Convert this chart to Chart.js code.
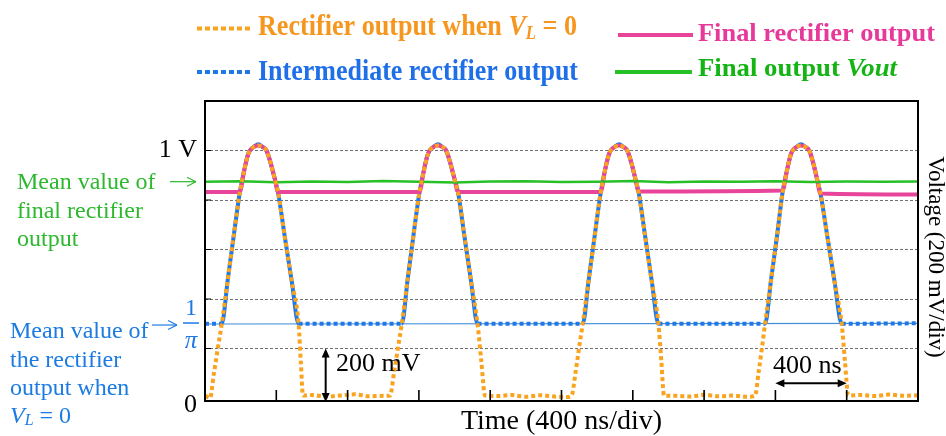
<!DOCTYPE html>
<html>
<head>
<meta charset="utf-8">
<title>Rectifier waveforms</title>
<script src="https://cdn.jsdelivr.net/npm/chart.js@4.4.1/dist/chart.umd.min.js"></script>
<style>
  html, body { margin: 0; padding: 0; background: #fff; }
  canvas { display: block; }
</style>
</head>
<body>
<canvas id="scope" width="946" height="436"></canvas>
<script>
// time in ns, voltage in V (oscilloscope capture, 400 ns/div, 200 mV/div)
const orangeT = [
  0, 28, 50, 72, 94, 128, 162, 195, 220, 240, 252, 275, 300, 322, 345, 368, 390, 410, 448, 487, 525, 538, 550,
  600, 680, 760, 840, 920, 1000,
  1038, 1060, 1082, 1104, 1137, 1170, 1203, 1228, 1248, 1260, 1283, 1308, 1330, 1353, 1376, 1398, 1420, 1456, 1493, 1529, 1550, 1571,
  1640, 1720, 1800, 1880, 1960, 2030,
  2057, 2078, 2098, 2119, 2153, 2187, 2220, 2244, 2264, 2276, 2299, 2324, 2346, 2369, 2392, 2413, 2433, 2470, 2507, 2544, 2560, 2575,
  2640, 2720, 2800, 2880, 2960, 3040,
  3086, 3105, 3124, 3142, 3176, 3210, 3240, 3265, 3285, 3297, 3320, 3344, 3367, 3390, 3412, 3432, 3452, 3492, 3532, 3572, 3590, 3609,
  3680, 3760, 3840, 3920, 4000
];
const orangeV = [
  0.01, 0.0, 0.1, 0.2, 0.3, 0.48, 0.66, 0.83, 0.92, 0.98, 1.0, 1.015, 1.02, 1.015, 1.0, 0.95, 0.89, 0.83, 0.65, 0.47, 0.3, 0.14, 0.01,
  0.012, 0.006, 0.01, 0.015, 0.007, 0.009,
  0.01, 0.1, 0.2, 0.3, 0.48, 0.66, 0.83, 0.92, 0.98, 1.0, 1.015, 1.02, 1.015, 1.0, 0.95, 0.89, 0.83, 0.65, 0.47, 0.3, 0.15, 0.01,
  0.008, 0.012, 0.005, 0.011, 0.006, 0.004,
  0.01, 0.1, 0.2, 0.3, 0.48, 0.66, 0.83, 0.92, 0.98, 1.0, 1.015, 1.02, 1.015, 1.0, 0.95, 0.89, 0.83, 0.65, 0.47, 0.3, 0.15, 0.01,
  0.009, 0.006, 0.013, 0.007, 0.01, 0.005,
  0.01, 0.1, 0.2, 0.3, 0.48, 0.66, 0.83, 0.92, 0.98, 1.0, 1.015, 1.02, 1.015, 1.0, 0.95, 0.89, 0.83, 0.65, 0.47, 0.3, 0.15, 0.01,
  0.012, 0.008, 0.014, 0.009, 0.011
];

const blueT = [
  0,
  94, 128, 162, 195, 220, 240, 252, 275, 300, 322, 345, 368, 390, 410, 448, 487, 525,
  1104, 1137, 1170, 1203, 1228, 1248, 1260, 1283, 1308, 1330, 1353, 1376, 1398, 1420, 1456, 1493, 1529,
  2119, 2153, 2187, 2220, 2244, 2264, 2276, 2299, 2324, 2346, 2369, 2392, 2413, 2433, 2470, 2507, 2544,
  3142, 3176, 3210, 3240, 3265, 3285, 3297, 3320, 3344, 3367, 3390, 3412, 3432, 3452, 3492, 3532, 3572,
  4000
];
const blueV = [
  0.3,
  0.3, 0.48, 0.66, 0.83, 0.92, 0.98, 1.0, 1.015, 1.025, 1.015, 1.0, 0.95, 0.89, 0.83, 0.65, 0.47, 0.3,
  0.3, 0.48, 0.66, 0.83, 0.92, 0.98, 1.0, 1.015, 1.025, 1.015, 1.0, 0.95, 0.89, 0.83, 0.65, 0.47, 0.3,
  0.3, 0.48, 0.66, 0.83, 0.92, 0.98, 1.0, 1.015, 1.025, 1.015, 1.0, 0.95, 0.89, 0.83, 0.65, 0.47, 0.3,
  0.3, 0.48, 0.66, 0.83, 0.92, 0.98, 1.0, 1.015, 1.025, 1.015, 1.0, 0.95, 0.89, 0.83, 0.65, 0.47, 0.3,
  0.302
];

const pinkT = [
  0,
  195, 220, 240, 252, 275, 300, 322, 345, 368, 390, 410,
  1203, 1228, 1248, 1260, 1283, 1308, 1330, 1353, 1376, 1398, 1420,
  2220, 2244, 2264, 2276, 2299, 2324, 2346, 2369, 2392, 2413, 2433,
  3240, 3265, 3285, 3297, 3320, 3344, 3367, 3390, 3412, 3432, 3452,
  4000
];
const pinkV = [
  0.832,
  0.832, 0.92, 0.98, 1.0, 1.015, 1.02, 1.015, 1.0, 0.95, 0.89, 0.832,
  0.832, 0.92, 0.98, 1.0, 1.015, 1.02, 1.015, 1.0, 0.95, 0.89, 0.832,
  0.832, 0.92, 0.98, 1.0, 1.015, 1.02, 1.015, 1.0, 0.95, 0.89, 0.834,
  0.838, 0.92, 0.98, 1.0, 1.015, 1.02, 1.015, 1.0, 0.95, 0.89, 0.826,
  0.822
];

const greenT = [0, 200, 400, 600, 800, 1000, 1200, 1400, 1600, 1800, 2000, 2200, 2400, 2600, 2800, 3000, 3200, 3400, 3600, 3800, 4000];
const greenV = [0.874, 0.876, 0.872, 0.875, 0.873, 0.877, 0.874, 0.871, 0.875, 0.876, 0.873, 0.874, 0.877, 0.872, 0.875, 0.874, 0.876, 0.873, 0.875, 0.874, 0.875];

// mean value of the rectifier output when VL = 0 (about 1/pi V)
const meanT = [0, 4000];
const meanV = [0.299, 0.302];

const xTickValues = [400, 800, 1200, 1600, 2000, 2400, 2800, 3200, 3600];
const yGridValues = [0.2, 0.4, 0.6, 0.8, 1.0];
const yTickValues = [0, 1];
const yTickLabels = ['0', '1 V'];

const ORANGE = '#F9A31E';
const BLUE = '#1F78E6';
const PINK = '#E8449A';
const GREEN = '#27C027';
const SERIF = '"Liberation Serif", "Times New Roman", serif';

const pts = (ts, vs) => ts.map((t, i) => ({ x: t, y: vs[i] }));

function line(ctx, x1, y1, x2, y2) {
  ctx.beginPath();
  ctx.moveTo(x1, y1);
  ctx.lineTo(x2, y2);
  ctx.stroke();
}

// filled arrow head with tip at (x, y)
function head(ctx, x, y, ang, len, half) {
  ctx.beginPath();
  ctx.moveTo(x, y);
  ctx.lineTo(x - len * Math.cos(ang) + half * Math.sin(ang), y - len * Math.sin(ang) - half * Math.cos(ang));
  ctx.lineTo(x - len * Math.cos(ang) - half * Math.sin(ang), y - len * Math.sin(ang) + half * Math.cos(ang));
  ctx.closePath();
  ctx.fill();
}

// thin pointer arrow with an open head
function pointer(ctx, x1, x2, y, color) {
  ctx.strokeStyle = color;
  ctx.lineWidth = 1.2;
  line(ctx, x1, y, x2, y);
  line(ctx, x2, y, x2 - 9, y - 4.5);
  line(ctx, x2, y, x2 - 9, y + 4.5);
}

// text runs squeezed to a given width (condensed legend lettering)
function runs(ctx, parts, x, base, width) {
  let total = 0;
  parts.forEach(p => { ctx.font = p.font; p.w = ctx.measureText(p.t).width; total += p.w; });
  ctx.save();
  ctx.translate(x, base);
  ctx.scale(width / total, 1);
  let cx = 0;
  parts.forEach(p => { ctx.font = p.font; ctx.fillText(p.t, cx, p.dy || 0); cx += p.w; });
  ctx.restore();
}

// plain text runs at natural width
function textRuns(ctx, parts, x, y) {
  let cx = x;
  parts.forEach(p => { ctx.font = p.font; ctx.fillText(p.t, cx, y + (p.dy || 0)); cx += ctx.measureText(p.t).width; });
}

const decorations = {
  id: 'decorations',
  afterDraw(chart) {
    const { ctx, chartArea: a, scales: { x, y } } = chart;
    ctx.save();

    // frame and inner tick marks
    ctx.strokeStyle = '#000';
    ctx.lineWidth = 2;
    ctx.strokeRect(a.left, a.top, a.right - a.left, a.bottom - a.top);
    ctx.lineWidth = 1.6;
    xTickValues.forEach(t => {
      const px = x.getPixelForValue(t);
      line(ctx, px, a.bottom, px, a.bottom - 11);
    });
    ctx.lineWidth = 1;
    yGridValues.forEach(v => {
      const py = y.getPixelForValue(v);
      line(ctx, a.left, py, a.left + 6, py);
    });

    // y tick labels
    ctx.fillStyle = '#000';
    ctx.font = '26px ' + SERIF;
    ctx.textAlign = 'right';
    ctx.textBaseline = 'middle';
    yTickValues.forEach((v, i) => {
      ctx.fillText(yTickLabels[i], a.left - 8, y.getPixelForValue(v) + (v === 0 ? 7 : 0));
    });

    // 1/pi label at the mean level
    const yMean = y.getPixelForValue(meanV[0]);
    ctx.fillStyle = BLUE;
    ctx.textAlign = 'center';
    ctx.font = '24px ' + SERIF;
    ctx.fillText('1', 191, yMean - 15);
    ctx.font = 'italic 25px ' + SERIF;
    ctx.fillText('π', 191, yMean + 17);
    ctx.strokeStyle = BLUE;
    ctx.lineWidth = 1.5;
    line(ctx, 183, yMean - 1, 199, yMean - 1);

    // right axis title
    ctx.save();
    ctx.translate(935, 257);
    ctx.rotate(Math.PI / 2);
    ctx.fillStyle = '#000';
    ctx.font = '23px ' + SERIF;
    ctx.fillText('Voltage (200 mV/div)', 0, 0);
    ctx.restore();

    // left annotations
    ctx.textAlign = 'left';
    ctx.font = '24px ' + SERIF;
    ctx.fillStyle = '#2DB82D';
    ['Mean value of', 'final rectifier', 'output'].forEach((s, i) => ctx.fillText(s, 17, 183 + i * 28.5));
    pointer(ctx, 170, 196, y.getPixelForValue(greenV[0]), '#2DB82D');

    ctx.fillStyle = '#1C7BE3';
    ['Mean value of', 'the rectifier', 'output when'].forEach((s, i) => ctx.fillText(s, 10, 332 + i * 28.3));
    textRuns(ctx, [
      { t: 'V', font: 'italic 24px ' + SERIF },
      { t: 'L', font: 'italic 16px ' + SERIF, dy: 4 },
      { t: ' = 0', font: '24px ' + SERIF }
    ], 10, 417);
    pointer(ctx, 152, 177, yMean + 1, '#1C7BE3');

    // 200 mV scale arrow
    ctx.strokeStyle = '#000';
    ctx.fillStyle = '#000';
    ctx.lineWidth = 2;
    const xv = x.getPixelForValue(677);
    const y0 = y.getPixelForValue(0) + 4, y1 = y.getPixelForValue(0.2);
    line(ctx, xv, y0 - 6, xv, y1 + 6);
    head(ctx, xv, y1, -Math.PI / 2, 9, 4);
    head(ctx, xv, y0, Math.PI / 2, 9, 4);
    ctx.font = '26px ' + SERIF;
    ctx.fillText('200 mV', 336, 364);

    // 400 ns scale arrow
    const ya = y.getPixelForValue(0.06);
    const xa = x.getPixelForValue(3200), xb = x.getPixelForValue(3600);
    line(ctx, xa + 6, ya, xb - 6, ya);
    head(ctx, xa, ya, Math.PI, 9, 4);
    head(ctx, xb, ya, 0, 9, 4);
    ctx.fillText('400 ns', 773, 366);

    // legend
    ctx.textBaseline = 'alphabetic';
    ctx.lineWidth = 4;
    ctx.setLineDash([5, 3]);
    ctx.strokeStyle = ORANGE;
    line(ctx, 197, 28.5, 253, 28.5);
    ctx.strokeStyle = BLUE;
    line(ctx, 197, 72, 253, 72);
    ctx.setLineDash([]);
    ctx.strokeStyle = PINK;
    line(ctx, 618, 35, 693, 35);
    ctx.strokeStyle = GREEN;
    line(ctx, 615, 72, 692, 72);

    const B30 = 'bold 30px ' + SERIF;
    const B25 = 'bold 25px ' + SERIF;
    ctx.fillStyle = '#F7961E';
    runs(ctx, [
      { t: 'Rectifier output when ', font: B30 },
      { t: 'V', font: 'italic ' + B30 },
      { t: 'L', font: 'italic bold 19px ' + SERIF, dy: 4 },
      { t: ' = 0', font: B30 }
    ], 258, 35, 319);
    ctx.fillStyle = '#1F6FE8';
    runs(ctx, [{ t: 'Intermediate rectifier output', font: B30 }], 258, 80, 320);
    ctx.fillStyle = '#E6399A';
    runs(ctx, [{ t: 'Final rectifier output', font: B25 }], 698, 40.5, 237);
    ctx.fillStyle = '#14B414';
    runs(ctx, [
      { t: 'Final output ', font: B25 },
      { t: 'Vout', font: 'italic ' + B25 }
    ], 698, 76, 199);

    ctx.restore();
  }
};

new Chart(document.getElementById('scope'), {
  type: 'line',
  data: {
    datasets: [
      {
        label: 'Rectifier output when VL = 0',
        data: pts(orangeT, orangeV),
        borderColor: ORANGE,
        borderWidth: 4,
        borderDash: [4, 3],
        cubicInterpolationMode: 'monotone'
      },
      {
        label: 'Final output Vout',
        data: pts(greenT, greenV),
        borderColor: GREEN,
        borderWidth: 2.5,
        tension: 0
      },
      {
        label: 'Final rectifier output',
        data: pts(pinkT, pinkV),
        borderColor: PINK,
        borderWidth: 4,
        cubicInterpolationMode: 'monotone'
      },
      {
        label: 'Intermediate rectifier output',
        data: pts(blueT, blueV),
        borderColor: BLUE,
        borderWidth: 4,
        cubicInterpolationMode: 'monotone',
        segment: {
          borderDash: c => (c.p0.parsed.y <= 0.305 && c.p1.parsed.y <= 0.305) ? [4, 3] : undefined
        }
      },
      {
        label: 'Mean value',
        data: pts(meanT, meanV),
        borderColor: '#3F8EDB',
        borderWidth: 1.2
      }
    ]
  },
  options: {
    responsive: false,
    devicePixelRatio: 1,
    animation: false,
    events: [],
    layout: { padding: { top: 101, right: 28, bottom: 0, left: 0 } },
    elements: { point: { radius: 0 }, line: { borderCapStyle: 'butt' } },
    plugins: { legend: { display: false }, tooltip: { enabled: false } },
    scales: {
      x: {
        type: 'linear',
        min: 0,
        max: 4000,
        grid: { display: false },
        border: { display: false },
        ticks: { display: false },
        title: {
          display: true,
          text: 'Time (400 ns/div)',
          color: '#000',
          font: { family: SERIF, size: 28, lineHeight: 1.0 },
          padding: 0
        },
        afterFit: s => { s.height = 35; }
      },
      y: {
        type: 'linear',
        min: -0.012,
        max: 1.2,
        ticks: { display: false },
        grid: { color: '#707070', lineWidth: 1, drawTicks: false },
        border: { display: false, dash: [3, 2] },
        afterBuildTicks: s => { s.ticks = yGridValues.map(v => ({ value: v })); },
        afterFit: s => { s.width = 205; }
      }
    }
  },
  plugins: [decorations]
});
</script>
</body>
</html>
